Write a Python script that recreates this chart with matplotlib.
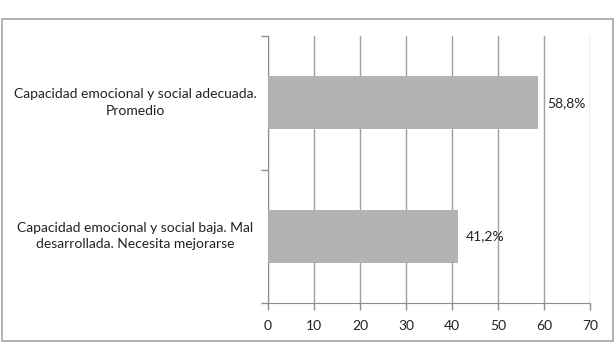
import matplotlib.pyplot as plt
from matplotlib.patches import Rectangle

# chart data
categories = ["Capacidad emocional y social baja. Mal\ndesarrollada. Necesita mejorarse",
              "Capacidad emocional y social adecuada.\nPromedio"]
values = [41.2, 58.8]
value_labels = ["41,2%", "58,8%"]
x_ticks = [0, 10, 20, 30, 40, 50, 60, 70]

plt.rcParams['font.family'] = ['Lato', 'DejaVu Sans']

W, H = 616, 343
fig = plt.figure(figsize=(W / 100, H / 100), dpi=100)

# outer chart border
fig.patches.append(Rectangle((2 / W, 1 - 341 / H), 611 / W, 322 / H,
                             transform=fig.transFigure, fill=False,
                             edgecolor="#a6a6a6", linewidth=1.2))

ax = fig.add_axes([268 / W, 1 - 303 / H, 322 / W, 267 / H])

ypos = range(len(categories))
ax.barh(ypos, values, height=0.4, color="#b3b3b3", zorder=3)
for y, v, lab in zip(ypos, values, value_labels):
    ax.text(v + 1.8, y, lab, va="center", ha="left", fontsize=10, color="#222222")

ax.set_xlim(0, 70)
ax.set_ylim(-0.5, 1.5)
ax.set_xticks(x_ticks)
ax.set_xticklabels([str(t) for t in x_ticks], fontsize=10, color="#222222")
ax.xaxis.grid(True, color="#a0a0a0", linewidth=1, zorder=0)

# category boundaries as ticks, labels placed at centers
ax.set_yticks([-0.5, 0.5, 1.5])
ax.set_yticklabels([])
for y, c in zip(ypos, categories):
    ax.annotate(c, xy=(0, y), xycoords=("axes fraction", "data"),
                xytext=(-133, 0), textcoords="offset pixels",
                ha="center", va="center", fontsize=10, color="#222222",
                linespacing=1.45)

for side in ["top", "right"]:
    ax.spines[side].set_visible(False)
ax.spines["left"].set_color("#8c8c8c")
ax.spines["bottom"].set_color("#8c8c8c")
ax.tick_params(axis="both", colors="#8c8c8c", length=5, width=1)
ax.tick_params(axis="x", labelcolor="#222222", pad=7)

fig.savefig("out.png", dpi=100)
